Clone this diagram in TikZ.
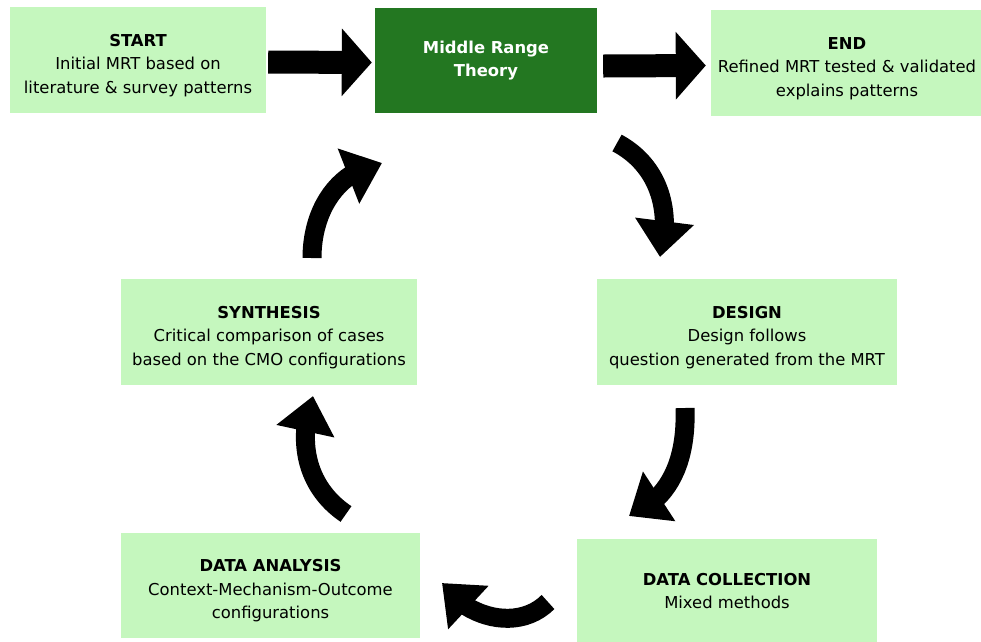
\documentclass[tikz,border=0pt]{standalone}
\usepackage{fontspec}
\setmainfont{DejaVu Sans}
\usetikzlibrary{arrows.meta,bending,calc}
\definecolor{lightg}{RGB}{197,247,190}
\definecolor{darkg}{RGB}{35,119,33}
\begin{document}
\begin{tikzpicture}[x=1pt,y=-1pt,
  box/.style={fill=lightg,draw=none,inner sep=0pt,align=center,text=black,
    font=\fontsize{16.4}{23.5}\selectfont},
  mainbox/.style={fill=darkg,draw=none,inner sep=0pt,align=center,text=white,
    font=\fontsize{16.4}{23.5}\selectfont\bfseries},
  blockarrow/.style={line width=23pt,-{Triangle[length=30pt,width=66pt]}},
  curvearrow/.style={line width=19pt,-{Triangle[length=36pt,width=57pt]}}]
\useasboundingbox (0,0) rectangle (981,641);
% boxes
\node[box,minimum width=256pt,minimum height=106pt] (start) at (138,60)
  {\rule{0pt}{23pt}\textbf{START}\\Initial MRT based on\\literature \& survey patterns};
\node[mainbox,minimum width=222pt,minimum height=105pt] (mrt) at (486,60.5)
  {Middle Range\\Theory};
\node[box,minimum width=272pt,minimum height=106pt] (end) at (847,63)
  {\rule{0pt}{23pt}\textbf{END}\\Refined MRT tested \& validated\\explains patterns};
\node[box,minimum width=296pt,minimum height=106pt] (synth) at (269,332)
  {\rule{0pt}{23pt}\textbf{SYNTHESIS}\\Critical comparison of cases\\based on the CMO configurations};
\node[box,minimum width=300pt,minimum height=106pt] (design) at (747,332)
  {\rule{0pt}{23pt}\textbf{DESIGN}\\Design follows\\question generated from the MRT};
\node[box,minimum width=299pt,minimum height=105pt] (analysis) at (270.5,585.5)
  {\rule{0pt}{23pt}\textbf{DATA ANALYSIS}\\Context-Mechanism-Outcome\\configurations};
\node[box,minimum width=300pt,minimum height=104pt] (collect) at (727,591)
  {\textbf{DATA COLLECTION}\\Mixed methods};
% straight block arrows
\draw[blockarrow] ($(start.east)+(2,2)$) -- ($(mrt.west)+(-3,2)$);
\draw[blockarrow] ($(mrt.east)+(6,5.5)$) -- ($(end.west)+(-5,2.5)$);
% curved arrows
\coordinate (a1) at (617,143); \coordinate (a2) at (660,257);
\coordinate (b1) at (685,408); \coordinate (b2) at (629,516);
\coordinate (c1) at (548,602); \coordinate (c2) at (442,583);
\coordinate (d1) at (346,514); \coordinate (d2) at (313,396);
\coordinate (e1) at (312,258); \coordinate (e2) at (382,163);
\draw[curvearrow] (a1) to[out=-28,in=75] (a2);
\draw[curvearrow] (b1) to[out=-88,in=22] (b2);
\draw[curvearrow] (c1) to[out=225,in=-56] (c2);
\draw[curvearrow] (d1) to[out=146,in=-110] (d2);
\draw[curvearrow] (e1) to[out=90,in=189] (e2);
\end{tikzpicture}
\end{document}
